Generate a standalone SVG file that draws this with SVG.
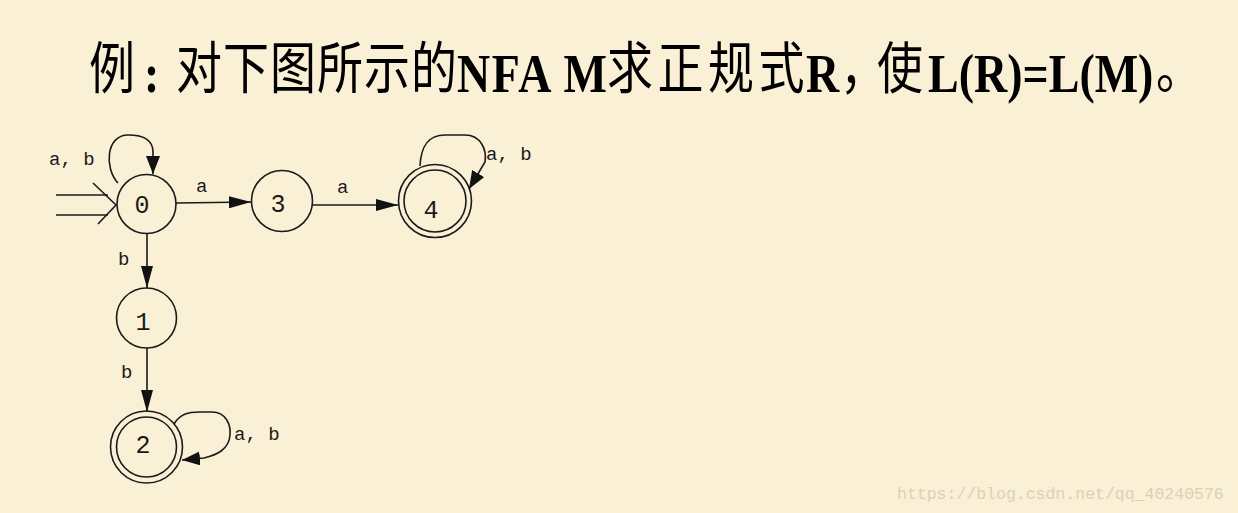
<svg xmlns="http://www.w3.org/2000/svg" width="1238" height="513" viewBox="0 0 1238 513">
  <defs>
    <marker id="arr" viewBox="0 0 22 12" refX="22" refY="6" markerWidth="22" markerHeight="12" markerUnits="userSpaceOnUse" orient="auto">
      <path d="M0,0 L22,6 L0,12 Z" fill="#111"/>
    </marker>
    <marker id="arrS" viewBox="0 0 18 14" refX="18" refY="7" markerWidth="18" markerHeight="14" markerUnits="userSpaceOnUse" orient="auto">
      <path d="M0,0 L18,7 L0,14 Z" fill="#111"/>
    </marker>
  </defs>
  <style>
    .zh { font-family: "Noto Sans CJK SC", sans-serif; font-size: 46px; fill: #000; }
    .en { font-family: "Liberation Serif", serif; font-weight: bold; font-size: 46px; fill: #000; }
    .st { fill: none; stroke: #1a1a1a; stroke-width: 1.6; }
    .edge { fill: none; stroke: #1a1a1a; stroke-width: 1.6; }
    .lbl { font-family: "Liberation Mono", monospace; font-size: 19px; fill: #1a1a1a; }
    .num { font-family: "Liberation Mono", monospace; font-size: 25px; fill: #1a1a1a; text-anchor: middle; }
    .wm { font-family: "Liberation Mono", monospace; font-size: 16.5px; fill: #DCD1B6; }
  </style>
  <rect x="0" y="0" width="1238" height="513" fill="#FAF0D6"/>

  <g id="title">
    <text class="zh" transform="translate(89,88) scale(1,1.2)">例</text>
    <text class="en" transform="translate(144,92) scale(1,1.18)">:</text>
    <text class="zh" transform="translate(176,88) scale(1,1.2)" letter-spacing="1">对下图所示的</text>
    <text class="en" transform="translate(457,92) scale(1,1.18)" textLength="150" lengthAdjust="spacing">NFA M</text>
    <text class="zh" transform="translate(607,88) scale(1,1.2)" letter-spacing="4.5">求正规式</text>
    <text class="en" transform="translate(806,92) scale(1,1.18)">R</text>
    <text class="zh" transform="translate(840,88) scale(1,1.2)" letter-spacing="-9">，使</text>
    <text class="en" transform="translate(928,92) scale(1,1.18)">L(R)=L(M)</text>
    <text class="zh" transform="translate(1156,88) scale(1,1.2)">。</text>
  </g>

  <g id="connectors">
    <g id="start">
      <path class="edge" d="M56,195 L108,195 M56,215 L108,215"/>
      <path class="edge" d="M93,183 L116,205 L98,224"/>
    </g>
    <path id="e0-0" class="edge" d="M118,183 C104,168 106,135 128,135 C146,135 153,142 153,152 L153,174" marker-end="url(#arrS)"/>
    <path id="e0-3" class="edge" d="M176,203 L251,202" marker-end="url(#arr)"/>
    <path id="e3-4" class="edge" d="M313,205 L398,205" marker-end="url(#arr)"/>
    <path id="e4-4" class="edge" d="M420,166 C421,146 428,135 445,135 L465,135 C481,135 487,150 485,162 L469,189" marker-end="url(#arrS)"/>
    <path id="e0-1" class="edge" d="M147,233 L147,288" marker-end="url(#arr)"/>
    <path id="e1-2" class="edge" d="M147,348 L147,412" marker-end="url(#arr)"/>
    <path id="e2-2" class="edge" d="M174,424 C180,414 188,412 200,412 L212,412 C226,412 231,425 230,435 C229,450 216,455 204,458 L182,460" marker-end="url(#arrS)"/>
    <text class="lbl" x="49" y="165">a, b</text>
    <text class="lbl" x="196" y="192">a</text>
    <text class="lbl" x="337" y="193">a</text>
    <text class="lbl" x="486" y="160">a, b</text>
    <text class="lbl" x="118" y="265">b</text>
    <text class="lbl" x="121" y="378">b</text>
    <text class="lbl" x="234" y="440">a, b</text>
  </g>

  <g id="node0">
    <circle class="st" cx="146.5" cy="204" r="29.5"/>
    <text class="num" x="142" y="213">0</text>
  </g>
  <g id="node3">
    <circle class="st" cx="282" cy="201" r="30.5"/>
    <text class="num" x="278" y="212">3</text>
  </g>
  <g id="node4">
    <circle class="st" cx="435" cy="201" r="36.5"/>
    <circle class="st" cx="435" cy="201" r="31"/>
    <text class="num" x="431" y="218">4</text>
  </g>
  <g id="node1">
    <circle class="st" cx="146.5" cy="318" r="30"/>
    <text class="num" x="143" y="330">1</text>
  </g>
  <g id="node2">
    <circle class="st" cx="146.5" cy="447" r="36"/>
    <circle class="st" cx="146.5" cy="447" r="30"/>
    <text class="num" x="143" y="453">2</text>
  </g>

  <text class="wm" x="897" y="499">https://blog.csdn.net/qq_40240576</text>
</svg>
